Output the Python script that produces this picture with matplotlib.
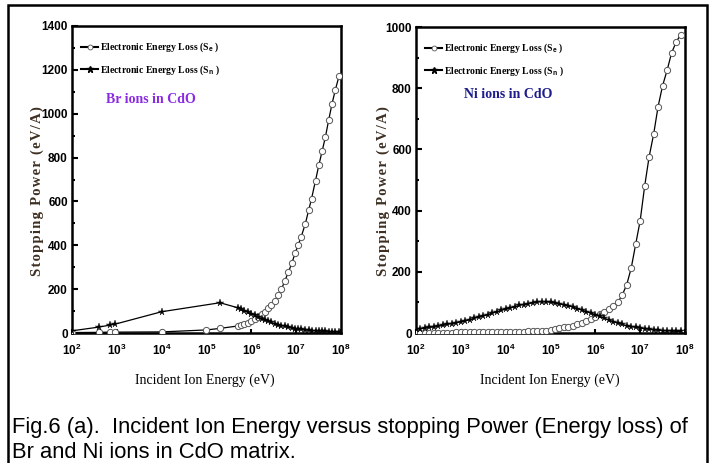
import matplotlib
matplotlib.use("Agg")
import matplotlib.pyplot as plt
from matplotlib.lines import Line2D
from matplotlib.patches import Rectangle
from matplotlib.ticker import MultipleLocator

plt.rcParams['font.family'] = ['Liberation Sans', 'DejaVu Sans']
plt.rcParams['mathtext.fontset'] = 'custom'
plt.rcParams['mathtext.rm'] = 'Liberation Sans:bold'
plt.rcParams['mathtext.bf'] = 'Liberation Sans:bold'

# ---- Br ions in CdO ----
br_se_energy = [1e2, 4e2, 7e2, 9e2, 1e4, 1e5, 2e5,
                5e5, 6e5, 7e5, 8.5e5, 1e6, 1.2e6, 1.4e6, 1.7e6, 2e6, 2.4e6, 2.8e6,
                3.3e6, 4e6, 4.7e6, 5.6e6, 6.7e6, 8e6, 9.5e6, 1.1e7, 1.3e7, 1.6e7,
                1.9e7, 2.2e7, 2.7e7, 3.2e7, 3.8e7, 4.5e7, 5.3e7, 6.3e7, 7.5e7, 9e7]
br_se = [2, 3, 4, 4, 5, 14, 21,
         32, 35, 39, 45, 53, 62, 72, 85, 97, 112, 127,
         147, 172, 200, 238, 278, 318, 365, 400, 440, 498,
         560, 612, 695, 765, 830, 895, 970, 1045, 1110, 1170]

br_sn_energy = [1e2, 4e2, 7e2, 9e2, 1e4, 2e5, 5e5,
                6e5, 7e5, 8.5e5, 1e6, 1.2e6, 1.4e6, 1.7e6, 2e6, 2.4e6, 2.8e6,
                3.3e6, 4e6, 4.7e6, 5.6e6, 6.7e6, 8e6, 9.5e6, 1.1e7, 1.3e7, 1.6e7,
                1.9e7, 2.2e7, 2.7e7, 3.2e7, 3.8e7, 4.5e7, 5.3e7, 6.3e7, 7.5e7, 9e7]
br_sn = [10, 27, 36, 40, 97, 138, 115,
         108, 102, 95, 88, 80, 73, 66, 60, 54, 48,
         43, 38, 34, 30, 26, 23, 20, 18, 16, 14,
         12, 11, 10, 9, 8, 7, 6.5, 6, 5.5, 5]

# ---- Ni ions in CdO ----
ni_energy = [1.00e2, 1.26e2, 1.58e2, 2.00e2, 2.51e2, 3.16e2, 3.98e2, 5.01e2, 6.31e2, 7.94e2,
             1.00e3, 1.26e3, 1.58e3, 2.00e3, 2.51e3, 3.16e3, 3.98e3, 5.01e3, 6.31e3, 7.94e3,
             1.00e4, 1.26e4, 1.58e4, 2.00e4, 2.51e4, 3.16e4, 3.98e4, 5.01e4, 6.31e4, 7.94e4,
             1.00e5, 1.26e5, 1.58e5, 2.00e5, 2.51e5, 3.16e5, 3.98e5, 5.01e5, 6.31e5, 7.94e5,
             1.00e6, 1.26e6, 1.58e6, 2.00e6, 2.51e6, 3.16e6, 3.98e6, 5.01e6, 6.31e6, 7.94e6,
             1.00e7, 1.26e7, 1.58e7, 2.00e7, 2.51e7, 3.16e7, 3.98e7, 5.01e7, 6.31e7, 7.94e7]
ni_se = [1, 1, 1, 1, 1, 1, 1.5, 1.5, 1.5, 2,
         2, 2, 2, 2, 2.5, 2.5, 2.5, 3, 3, 3,
         3, 3.5, 4, 4, 4.5, 5, 5.5, 6, 7, 8,
         10, 13, 16, 18, 21, 24, 29, 34, 40, 46,
         53, 61, 68, 77, 87, 100, 124, 158, 212, 290,
         367, 480, 575, 650, 740, 808, 858, 915, 950, 975]
ni_sn = [12, 14, 16, 18, 20, 22, 25, 28, 31, 34,
         37, 40, 44, 48, 52, 56, 60, 65, 69, 74,
         78, 82, 86, 90, 93, 96, 99, 101, 102, 102,
         100, 98, 95, 92, 89, 85, 80, 75, 70, 65,
         60, 54, 48, 43, 37, 32, 28, 24, 21, 18,
         16, 14, 12, 10, 9, 8, 7, 6, 5.5, 5]

x_ticks = [1e2, 1e3, 1e4, 1e5, 1e6, 1e7, 1e8]
x_tick_labels = [r'$\mathbf{10^{%d}}$' % d for d in range(2, 9)]

serif = ['Liberation Serif', 'DejaVu Serif']

fig = plt.figure(figsize=(7.15, 4.63), dpi=100)
W, H = 715.0, 463.0


def setup_axes(ax, ymax):
    ax.set_xscale('log')
    ax.set_xlim(1e2, 1e8)
    ax.set_ylim(0, ymax)
    ax.set_xticks(x_ticks)
    ax.set_xticklabels(x_tick_labels)
    ax.minorticks_off()
    ax.yaxis.set_major_locator(MultipleLocator(200))
    ax.yaxis.set_minor_locator(MultipleLocator(100))
    ax.tick_params(which='both', direction='in', width=1.5)
    ax.tick_params(axis='y', which='major', length=4, labelsize=8.5, pad=3)
    ax.tick_params(axis='y', which='minor', length=2.5)
    ax.tick_params(axis='x', which='major', length=3, labelsize=8.5, pad=7)
    for lab in ax.get_yticklabels():
        lab.set_fontweight('bold')
    for sp in ax.spines.values():
        sp.set_linewidth(1.8)


def draw_panel(rect, ymax, se_x, se_y, sn_x, sn_y, label, label_color, label_pos):
    ax = fig.add_axes(rect)
    setup_axes(ax, ymax)
    ax.plot(se_x, se_y, '-', color='black', lw=0.9, marker='o', ms=4.5,
            mfc='white', mec='#555555', mew=0.7, zorder=3)
    ax.plot(sn_x, sn_y, '-', color='black', lw=0.9, marker='*', ms=5.5,
            mfc='black', mec='black', mew=0.3, zorder=4)
    handles = [Line2D([], [], color='black', lw=1.5, marker='o', ms=3.5,
                      mfc='white', mec='#555555', mew=0.6),
               Line2D([], [], color='black', lw=1.5, marker='*', ms=4.5,
                      mfc='black', mec='black')]
    labels = ['Electronic Energy Loss (S$_{\\rm e}$ )',
              'Electronic Energy Loss (S$_{\\rm n}$ )']
    ax.legend(handles, labels, loc='upper left', frameon=False,
              bbox_to_anchor=(0.0, 0.98), handlelength=1.8, handletextpad=0.2,
              labelspacing=0.95, prop={'family': serif, 'weight': 'bold', 'size': 7})
    ax.text(label_pos[0], label_pos[1], label, transform=ax.transAxes,
            color=label_color, fontsize=10, fontweight='bold', family=serif,
            ha='left', va='center')
    return ax


ax1 = draw_panel([72 / W, 1 - 333 / H, 269 / W, 307 / H], 1400,
                 br_se_energy, br_se, br_sn_energy, br_sn,
                 'Br ions in CdO', '#8a2be2', (0.125, 0.762))
ax2 = draw_panel([416 / W, 1 - 333 / H, 269 / W, 306 / H], 1000,
                 ni_energy, ni_se, ni_energy, ni_sn,
                 'Ni ions in CdO', '#1c1c8c', (0.18, 0.778))

# axis titles (letter-spaced like the original)
y_title = '\u200a'.join('Stopping Power (eV/A)')
for x in (37, 383):
    fig.text(x / W, 1 - 191 / H, y_title, rotation=90,
             ha='center', va='center', fontsize=10.5, fontweight='bold',
             family=serif, color='#3d2f22')
for x in (205, 550):
    fig.text(x / W, 1 - 380 / H, 'Incident Ion Energy (eV)', ha='center',
             va='center', fontsize=10, family=serif, color='black')

# caption
cap_font = ['Liberation Sans', 'DejaVu Sans']
fig.text(12 / W, 1 - 427 / H,
         'Fig.6 (a).  Incident Ion Energy versus stopping Power (Energy loss) of',
         ha='left', va='center', fontsize=15.8, family=cap_font)
fig.text(12 / W, 1 - 453 / H, 'Br and Ni ions in CdO matrix.',
         ha='left', va='center', fontsize=15.8, family=cap_font)

# outer frame
fig.patches.append(Rectangle((8 / W, -0.05), 699 / W, 1.05 - 5 / H,
                             transform=fig.transFigure, fill=False,
                             lw=1.8, edgecolor='black'))

fig.savefig('out.png', dpi=100)
